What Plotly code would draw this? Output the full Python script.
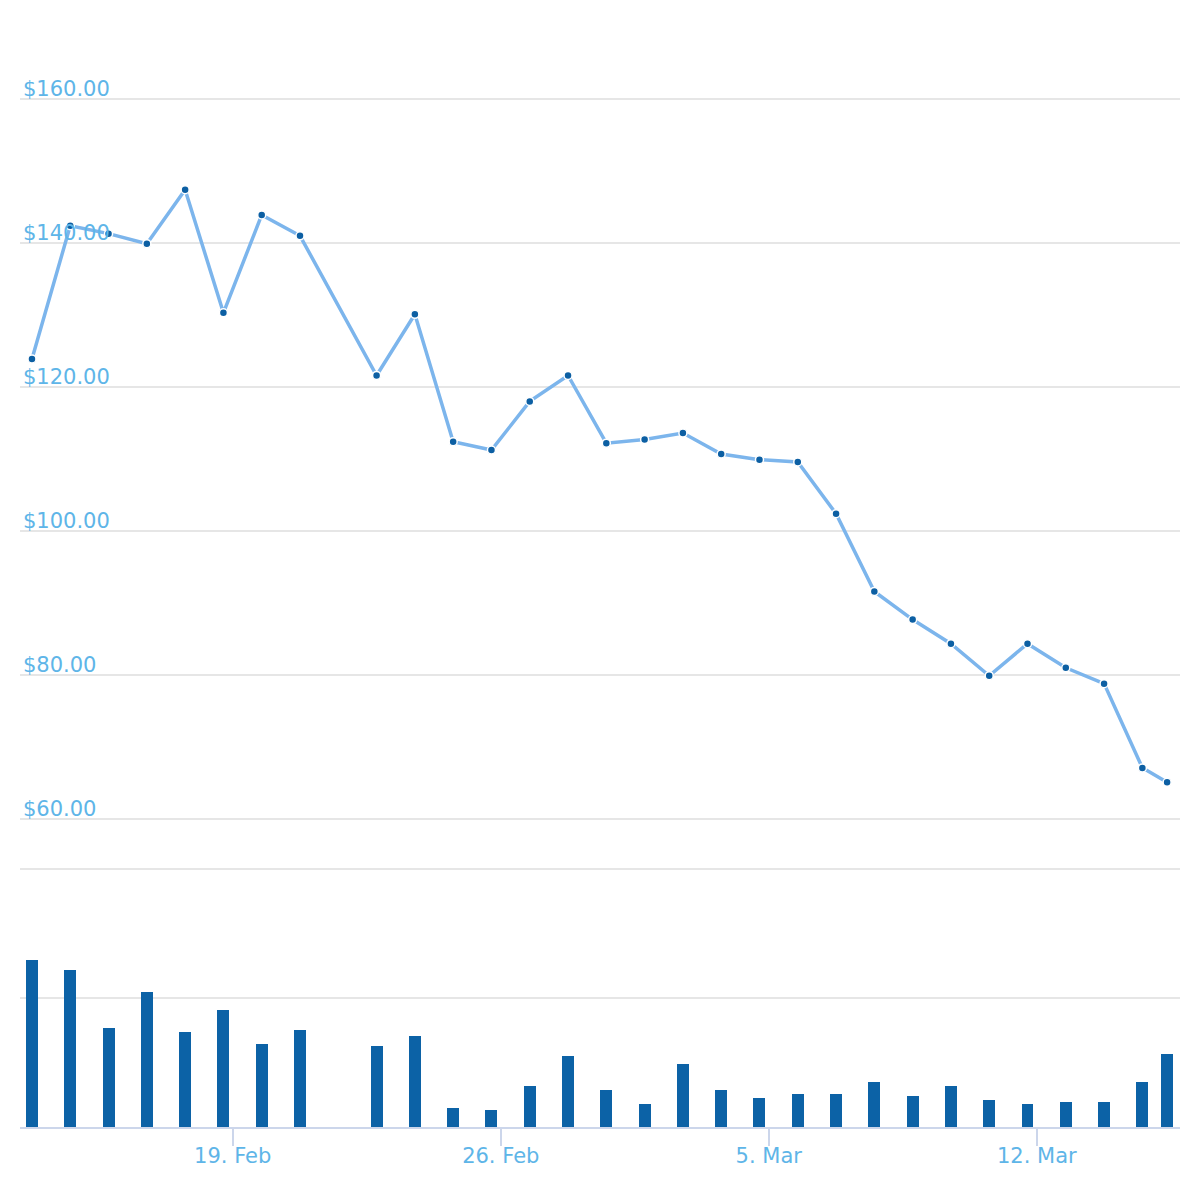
import plotly.graph_objects as go

# ---- data ----
dates = [
    "2018-02-13 18:10", "2018-02-14 18:10", "2018-02-15 18:10", "2018-02-16 18:10",
    "2018-02-17 18:10", "2018-02-18 18:10", "2018-02-19 18:10", "2018-02-20 18:10",
    "2018-02-22 18:10", "2018-02-23 18:10", "2018-02-24 18:10", "2018-02-25 18:10",
    "2018-02-26 18:10", "2018-02-27 18:10", "2018-02-28 18:10", "2018-03-01 18:10",
    "2018-03-02 18:10", "2018-03-03 18:10", "2018-03-04 18:10", "2018-03-05 18:10",
    "2018-03-06 18:10", "2018-03-07 18:10", "2018-03-08 18:10", "2018-03-09 18:10",
    "2018-03-10 18:10", "2018-03-11 18:10", "2018-03-12 18:10", "2018-03-13 18:10",
    "2018-03-14 18:10", "2018-03-15 09:40",
]
price = [
    123.9, 142.4, 141.3, 139.9, 147.4, 130.3, 143.9, 141.0,
    121.6, 130.1, 112.4, 111.25, 118.0, 121.6, 112.2, 112.7,
    113.6, 110.7, 109.9, 109.6, 102.4, 91.6, 87.7, 84.35,
    79.9, 84.35, 81.0, 78.8, 67.1, 65.1,
]
volume = [
    129.5, 121.7, 76.7, 104.7, 73.6, 90.7, 64.3, 75.2,
    62.8, 70.5, 14.7, 13.2, 31.8, 55.0, 28.7, 17.8,
    48.8, 28.7, 22.5, 25.6, 25.6, 34.9, 24.0, 31.8,
    20.9, 17.8, 19.4, 19.4, 34.9, 56.6,
]

LABEL_COLOR = "#5eb5e8"
GRID_COLOR = "#e6e6e6"
AXIS_COLOR = "#ccd6eb"
FONT = "DejaVu Sans"

fig = go.Figure()

fig.add_trace(go.Bar(
    x=dates, y=volume, xaxis="x", yaxis="y2",
    marker=dict(color="#0c62a6", line=dict(width=0)),
    width=27_000_000,
    showlegend=False,
))

fig.add_trace(go.Scatter(
    x=dates, y=price, xaxis="x", yaxis="y",
    mode="lines+markers",
    line=dict(color="#7cb5ec", width=3.5),
    marker=dict(color="#0c5fa3", size=8, line=dict(color="white", width=1.5)),
    showlegend=False,
))

# The page body has an 8px default margin; figure coordinates = page - 8.
OFF = 8
W = H = 1192
bottom_fig = 1127 - OFF
plot_h = bottom_fig  # margin top = 0
VOL_PX_PER_UNIT = (1127 - 869) / 200.0
VOL_MAX = 203
vol_top_fig = bottom_fig - VOL_MAX * VOL_PX_PER_UNIT
vol_dom_top = (bottom_fig - vol_top_fig) / plot_h
PX_PER_UNIT = 7.2
P160_PAGE = 99
price_dom_bottom = (1127 - 869) / plot_h

fig.update_layout(
    width=W, height=H,
    margin=dict(l=20 - OFF, r=W - (1180 - OFF), t=0, b=H - bottom_fig, autoexpand=False),
    paper_bgcolor="white", plot_bgcolor="white",
    font=dict(family=FONT, size=21, color=LABEL_COLOR),
    bargap=0,
    xaxis=dict(
        type="date",
        range=["2018-02-13 10:40", "2018-03-15 17:45"],
        anchor="y2",
        showgrid=False, zeroline=False,
        showline=True, linecolor=AXIS_COLOR, linewidth=2,
        ticks="outside", ticklen=17, tickwidth=2, tickcolor=AXIS_COLOR,
        tick0="2018-02-19", dtick=7 * 86400000,
        tickformat="%-d. %b",
        ticklabelstandoff=-8,
        tickfont=dict(family=FONT, size=21, color=LABEL_COLOR),
        rangeslider=dict(visible=False),
    ),
    yaxis=dict(
        domain=[price_dom_bottom, 1],
        range=[160 - (869 - P160_PAGE) / PX_PER_UNIT, 160 + (P160_PAGE - OFF) / PX_PER_UNIT],
        anchor="x",
        tick0=0, dtick=20,
        tickformat="$.2f",
        ticklabelposition="inside top",
        ticklabelshift=4,
        showgrid=True, gridcolor=GRID_COLOR, gridwidth=2,
        zeroline=False, showline=False, ticks="",
        tickfont=dict(family=FONT, size=21, color=LABEL_COLOR),
    ),
    yaxis2=dict(
        domain=[0, vol_dom_top],
        range=[0, VOL_MAX],
        anchor="x",
        tick0=0, dtick=100,
        showticklabels=False,
        showgrid=True, gridcolor=GRID_COLOR, gridwidth=2,
        zeroline=False, showline=False, ticks="",
    ),
)

fig.write_html("out.html")
